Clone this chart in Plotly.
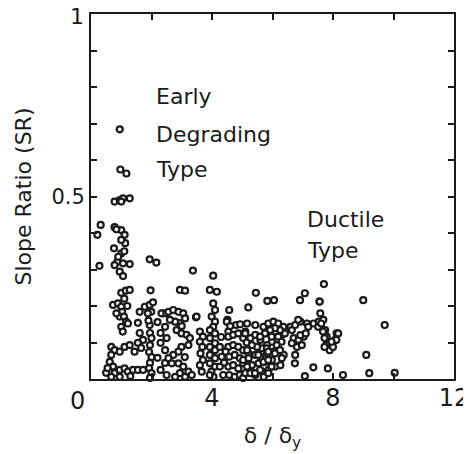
import plotly.graph_objects as go

# Scatter data (delta/delta_y, slope ratio)
pts_isolated = [
    (0.95,0.684),(0.97,0.574),(1.17,0.563),(0.78,0.486),(0.95,0.49),(1.06,0.495),(1.28,0.495),(1.0,0.486),
    (0.32,0.422),(0.21,0.395),(0.28,0.31),
    (0.78,0.416),(1.0,0.408),(1.11,0.395),(1.13,0.372),(1.0,0.381),(0.84,0.41),
    (0.76,0.358),(1.0,0.344),(0.87,0.321),(1.06,0.317),(1.28,0.315),(0.95,0.294),(1.06,0.282),(0.78,0.312),(0.9,0.335),(1.1,0.35),
    (1.94,0.328),(2.16,0.319),(3.37,0.297),(4.04,0.283),
    (1.97,0.243),(2.94,0.244),(3.11,0.242),(3.93,0.244),(4.16,0.239),(5.45,0.236),(5.83,0.214),(6.05,0.216),
    (5.2,0.196),(4.57,0.189),(6.91,0.216),(7.07,0.235),(7.55,0.212),(7.7,0.26),(9.0,0.216),(9.71,0.148),
    (9.1,0.066),(9.2,0.016),(10.04,0.017),(8.33,0.011),(7.83,0.029),(7.35,0.032),(7.07,0.008),(6.74,0.043),
    (3.47,0.169),(4.51,0.162),
]
pts_left = [
    (1.0,0.236),(1.15,0.242),(1.28,0.244),(0.73,0.203),(0.89,0.207),(1.0,0.198),(1.03,0.184),(0.95,0.171),
    (0.84,0.18),(1.09,0.171),(1.16,0.157),(1.0,0.143),(1.22,0.152),(1.1,0.22),(1.2,0.2),(1.05,0.13),
    (0.67,0.088),(0.78,0.079),(0.95,0.075),(1.11,0.088),(1.28,0.093),(1.44,0.075),(0.67,0.066),(0.62,0.047),
    (0.73,0.034),(0.62,0.02),(0.78,0.016),(0.95,0.025),(1.11,0.029),(1.22,0.02),(1.39,0.025),(1.55,0.025),
    (1.72,0.025),(0.95,0.006),(0.67,0.006),(0.5,0.017),(0.55,0.03),(1.3,0.008),
]
pts_mid1 = [
    (1.61,0.184),(1.78,0.198),(1.94,0.203),(1.99,0.184),(1.88,0.18),(1.55,0.154),(1.94,0.148),(2.38,0.18),(2.05,0.21),
    (1.95,0.126),(2.0,0.112),(1.95,0.093),(1.92,0.074),(2.0,0.06),(1.95,0.044),(1.92,0.03),(2.0,0.016),(1.95,0.003),(1.9,0.16),
    (1.61,0.126),(1.72,0.107),(1.55,0.099),(1.66,0.085),
    (2.2,0.156),(2.45,0.143),(2.3,0.126),(2.5,0.112),(2.3,0.099),(2.45,0.079),(2.2,0.058),(2.45,0.044),(2.3,0.025),
    (2.5,0.011),(2.33,0.18),(2.49,0.18),
    (2.56,0.184),(2.72,0.189),(2.89,0.184),(3.05,0.18),(3.11,0.166),(2.94,0.153),(2.78,0.157),(2.61,0.162),
    (2.83,0.134),(2.99,0.125),(3.16,0.121),(3.27,0.112),(3.22,0.093),(2.99,0.088),(2.89,0.075),(2.72,0.066),
    (2.56,0.057),(2.67,0.043),(2.89,0.043),(3.05,0.034),(3.22,0.02),(2.94,0.016),(2.78,0.006),(3.11,0.006),
    (3.33,0.011),(3.0,0.145),(3.1,0.06),
    (3.6,0.13),(3.7,0.116),(3.6,0.102),(3.68,0.088),(3.62,0.07),(3.7,0.052),(3.6,0.038),(3.66,0.02),(3.49,0.171),
]
pts_mid2 = [
    (4.04,0.207),(4.1,0.189),(3.99,0.171),(4.1,0.157),(4.04,0.143),(4.49,0.157),(4.54,0.13),
    (3.93,0.134),(4.1,0.125),(3.93,0.112),(4.1,0.098),(3.93,0.088),(4.1,0.079),(3.93,0.066),(4.1,0.057),
    (3.93,0.043),(4.1,0.034),(3.98,0.02),(4.05,0.006),(3.93,0.011),
    (4.26,0.088),(4.32,0.061),(4.26,0.034),(4.37,0.011),(4.3,0.115),
    (4.54,0.116),(4.7,0.121),(4.87,0.125),(5.03,0.112),(4.54,0.088),(4.7,0.093),(4.87,0.088),(5.03,0.079),
    (4.57,0.061),(4.75,0.066),(4.92,0.057),(5.03,0.043),(4.54,0.034),(4.7,0.038),(4.87,0.029),(5.03,0.052),
    (4.57,0.011),(4.75,0.006),(4.92,0.011),(5.03,0.003),(4.45,0.075),(4.4,0.045),(4.6,0.145),(4.8,0.148),
    (4.93,0.15),(5.1,0.13),(5.15,0.1),(5.2,0.07),(5.26,0.025),(5.1,0.016),(5.2,0.04),
]
pts_mid3 = [
    (5.16,0.152),(5.43,0.148),
    (5.1,0.125),(5.27,0.112),(5.43,0.121),(5.6,0.107),(5.76,0.125),(5.93,0.134),(6.09,0.13),(6.26,0.143),
    (6.31,0.121),(6.15,0.107),(5.98,0.102),(5.82,0.093),(5.65,0.084),(5.49,0.088),(5.32,0.093),(5.16,0.079),
    (5.21,0.057),(5.43,0.066),(5.6,0.061),(5.82,0.07),(6.04,0.075),(6.2,0.079),(6.37,0.066),(5.98,0.052),
    (5.76,0.047),(5.54,0.043),(5.32,0.038),(5.16,0.034),(5.43,0.011),(5.65,0.02),(5.87,0.025),(6.09,0.034),
    (6.26,0.038),(6.31,0.057),(5.71,0.006),(5.27,0.016),
    (5.7,0.143),(5.86,0.152),(6.03,0.157),(6.19,0.152),(6.36,0.143),(6.41,0.125),(6.25,0.134),(6.08,0.139),
    (5.92,0.134),(5.75,0.125),(5.59,0.116),(5.97,0.116),(6.19,0.116),(6.3,0.102),(6.14,0.093),(5.81,0.084),
    (5.53,0.066),(5.86,0.075),(6.08,0.07),(6.25,0.079),(5.7,0.047),(5.86,0.052),(5.97,0.034),(5.59,0.025),
    (5.42,0.016),(5.86,0.016),
]
pts_right = [
    (6.59,0.143),(6.64,0.134),(6.75,0.148),(6.92,0.157),(7.14,0.152),(7.36,0.152),(7.53,0.157),(7.58,0.18),
    (6.85,0.162),(6.7,0.112),(6.86,0.107),(7.03,0.116),(6.64,0.098),(6.81,0.088),(6.97,0.093),(6.75,0.066),
    (6.92,0.12),(7.1,0.125),(7.18,0.143),(7.51,0.143),(7.68,0.162),(7.74,0.134),(7.79,0.116),(7.85,0.098),
    (7.96,0.088),(8.07,0.107),(8.12,0.125),(7.67,0.13),(7.72,0.112),(7.78,0.093),(7.89,0.079),(8.0,0.088),
    (8.11,0.107),(8.17,0.125),(7.72,0.088),(7.95,0.102),(7.61,0.152),(7.56,0.212),
]

groups = [pts_isolated, pts_left, pts_mid1, pts_mid2, pts_mid3, pts_right]
x_vals = [p[0] for g in groups for p in g]
y_vals = [p[1] for g in groups for p in g]

x_tickvals = [4, 8, 12]
x_ticktext = ["4", "8", "12"]
y_tickvals = [0.5]
y_ticktext = ["0.5"]

FONT = "DejaVu Sans"
INK = "#1a1a1a"

fig = go.Figure(go.Scatter(
    x=x_vals, y=y_vals, mode="markers", cliponaxis=False,
    marker=dict(symbol="circle", size=6, color="white",
                line=dict(color=INK, width=2.2)),
))

# the page body adds an 8px offset, so the figure is sized 8px smaller
fig.update_layout(
    template="none",
    width=463, height=446,
    margin=dict(l=83, r=17, t=6, b=75, autoexpand=False),
    paper_bgcolor="white", plot_bgcolor="white",
    showlegend=False,
    font=dict(family=FONT, color=INK),
    xaxis=dict(range=[0, 12], tickvals=x_tickvals, ticktext=x_ticktext,
               ticks="inside", ticklen=6, tickwidth=1.5, tickcolor=INK,
               minor=dict(ticks="inside", dtick=2, tick0=0, ticklen=6, tickwidth=1.5, tickcolor=INK, showgrid=False),
               showline=True, linewidth=2, linecolor=INK, mirror="ticks",
               showgrid=False, zeroline=False, automargin=False,
               ticklabelstandoff=-4,
               tickfont=dict(size=24, family=FONT, color=INK),
               title=dict(text="δ / δ<sub>y</sub>", font=dict(size=22, family=FONT, color=INK), standoff=17)),
    yaxis=dict(range=[0, 1], tickvals=y_tickvals, ticktext=y_ticktext,
               ticks="inside", ticklen=6, tickwidth=1.5, tickcolor=INK,
               minor=dict(ticks="inside", dtick=0.1, tick0=0, ticklen=6, tickwidth=1.5, tickcolor=INK, showgrid=False),
               showline=True, linewidth=2, linecolor=INK, mirror="ticks",
               showgrid=False, zeroline=False, automargin=False,
               tickfont=dict(size=21, family=FONT, color=INK),
               title=dict(text="Slope Ratio (SR)", font=dict(size=22, family=FONT, color=INK), standoff=14)),
)

labels = [
    ("Early", 2.08, 0.773),
    ("Degrading", 2.08, 0.671),
    ("Type", 2.08, 0.573),
    ("Ductile", 7.07, 0.436),
    ("Type", 7.07, 0.351),
]
for txt, lx, ly in labels:
    fig.add_annotation(x=lx, y=ly, xref="x", yref="y", text=txt, showarrow=False,
                       xanchor="left", yanchor="middle",
                       font=dict(size=22, family=FONT, color=INK))

# corner "0" and top "1" labels
fig.add_annotation(x=0, y=0, xref="x", yref="y", text="0", showarrow=False,
                   xanchor="center", yanchor="top", xshift=-14, yshift=-6,
                   font=dict(size=24, family=FONT, color=INK))
fig.add_annotation(x=0, y=1, xref="x", yref="y", text="1", showarrow=False,
                   xanchor="right", yanchor="middle", xshift=-6, yshift=-2,
                   height=16, valign="middle", borderpad=0,
                   font=dict(size=22, family=FONT, color=INK))

fig.write_html("out.html")
